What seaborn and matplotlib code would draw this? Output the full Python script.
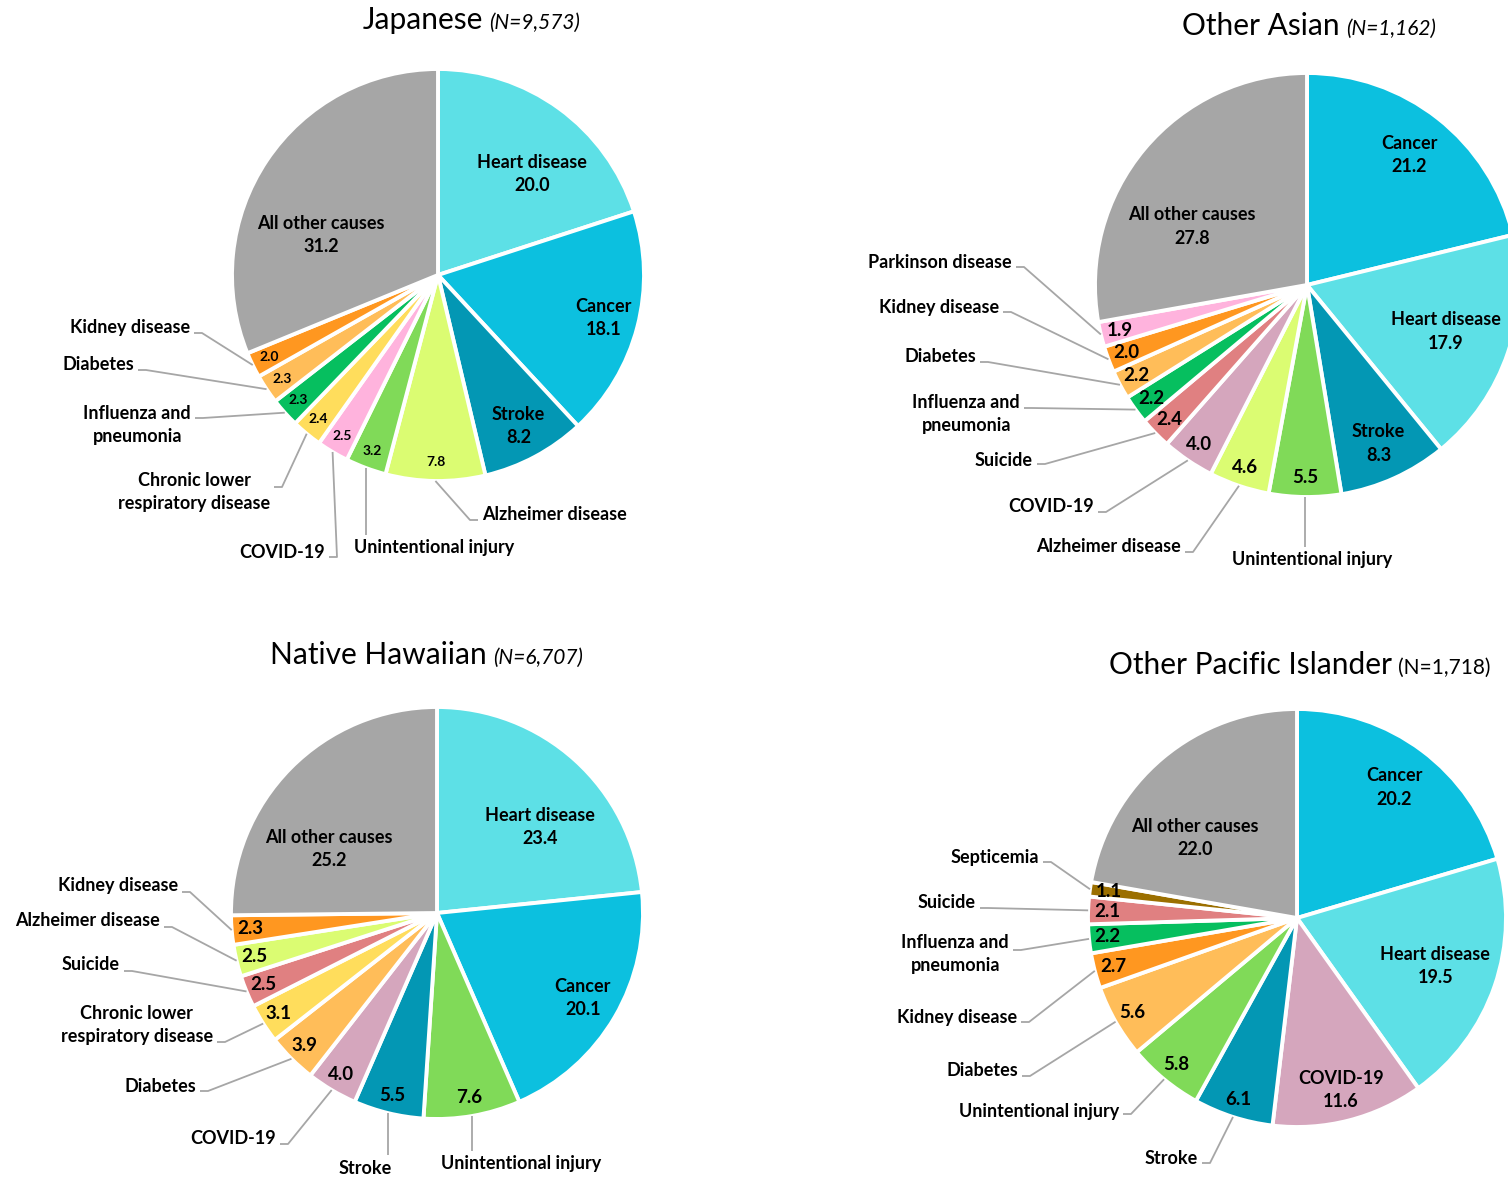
import matplotlib
matplotlib.use("Agg")
import matplotlib.pyplot as plt
import numpy as np
import seaborn as sns

W, H = 1508, 1178

# ---- data (percent of deaths) ----
JP_CAUSES = ["Heart disease", "Cancer", "Stroke", "Alzheimer disease", "Unintentional injury",
             "COVID-19", "Chronic lower respiratory disease", "Influenza and pneumonia",
             "Diabetes", "Kidney disease", "All other causes"]
JP_PCT = [20.0, 18.1, 8.2, 7.8, 3.2, 2.5, 2.4, 2.3, 2.3, 2.0, 31.2]

OA_CAUSES = ["Cancer", "Heart disease", "Stroke", "Unintentional injury", "Alzheimer disease",
             "COVID-19", "Suicide", "Influenza and pneumonia", "Diabetes", "Kidney disease",
             "Parkinson disease", "All other causes"]
OA_PCT = [21.2, 17.9, 8.3, 5.5, 4.6, 4.0, 2.4, 2.2, 2.2, 2.0, 1.9, 27.8]

NH_CAUSES = ["Heart disease", "Cancer", "Unintentional injury", "Stroke", "COVID-19", "Diabetes",
             "Chronic lower respiratory disease", "Suicide", "Alzheimer disease",
             "Kidney disease", "All other causes"]
NH_PCT = [23.4, 20.1, 7.6, 5.5, 4.0, 3.9, 3.1, 2.5, 2.5, 2.3, 25.2]

OPI_CAUSES = ["Cancer", "Heart disease", "COVID-19", "Stroke", "Unintentional injury", "Diabetes",
              "Kidney disease", "Influenza and pneumonia", "Suicide", "Septicemia",
              "All other causes"]
OPI_PCT = [20.2, 19.5, 11.6, 6.1, 5.8, 5.6, 2.7, 2.2, 2.1, 1.1, 22.0]

TITLES = ["Japanese", "Other Asian", "Native Hawaiian", "Other Pacific Islander"]
N_LABELS = ["(N=9,573)", "(N=1,162)", "(N=6,707)", "(N=1,718)"]

# ---- style ----
CAUSE_COLORS = {
    "Heart disease": "#5DE0E6",
    "Cancer": "#0CC0DF",
    "Stroke": "#0397B4",
    "Alzheimer disease": "#DBFC72",
    "Unintentional injury": "#80DA58",
    "COVID-19": "#D5A6BD",
    "Chronic lower respiratory disease": "#FFDD5C",
    "Influenza and pneumonia": "#06BF5F",
    "Diabetes": "#FFBD59",
    "Kidney disease": "#FF9720",
    "Suicide": "#E08081",
    "Parkinson disease": "#FFB3DD",
    "Septicemia": "#9B6F00",
    "All other causes": "#A6A6A6",
}
DISPLAY = {
    "Influenza and pneumonia": "Influenza and\npneumonia",
    "Chronic lower respiratory disease": "Chronic lower\nrespiratory disease",
}
LINE_COLOR = "#A6A6A6"
LABEL_SIZE = 13

sns.set_theme(style="white")
plt.rcParams["font.family"] = ["Lato", "DejaVu Sans"]
plt.rcParams["text.color"] = "black"


def draw_pie(ax, causes, pct, center, radius, named, outside, overrides=None, value_size=13.5):
    """Pie from 12 o'clock clockwise, labels inside, leader lines to names outside."""
    cx, cy = center
    cy = H - cy
    pal = dict(CAUSE_COLORS, **(overrides or {}))
    wedges, _ = ax.pie(pct, colors=[pal[c] for c in causes], startangle=90, counterclock=False,
                       center=(cx, cy), radius=radius,
                       wedgeprops=dict(edgecolor="white", linewidth=2.8))
    for w, cause, val in zip(wedges, causes, pct):
        mid = np.deg2rad((w.theta1 + w.theta2) / 2)
        if cause in named:
            frac, dang = named[cause]
            a = mid + np.deg2rad(dang)
            ax.text(cx + frac * radius * np.cos(a), cy + frac * radius * np.sin(a),
                    f"{cause}\n{val:.1f}", ha="center", va="center", fontsize=LABEL_SIZE,
                    fontweight="bold", linespacing=1.45)
        else:
            ax.text(cx + 0.91 * radius * np.cos(mid), cy + 0.91 * radius * np.sin(mid),
                    f"{val:.1f}", ha="center", va="center", fontsize=value_size,
                    fontweight="bold")
        if cause not in outside:
            continue
        tx, ty, ha, kind, dy = outside[cause]
        ex, ey = cx + radius * np.cos(mid), cy + radius * np.sin(mid)
        ax.text(tx, H - ty, DISPLAY.get(cause, cause), ha=ha, va="center", fontsize=LABEL_SIZE,
                fontweight="bold", multialignment="center", linespacing=1.45)
        if kind == "below":
            xs, ys = [ex, ex], [ey, H - (ty - 13)]
        else:
            sgn = 1 if ha == "right" else -1
            ly = H - (ty + dy)
            xs = [tx + sgn * 4, tx + sgn * 12, ex]
            ys = [ly, ly, ey]
        ax.plot(xs, ys, color=LINE_COLOR, lw=1.3, solid_capstyle="butt")


fig = plt.figure(figsize=(W / 100, H / 100), dpi=100)
ax = fig.add_axes([0, 0, 1, 1])

draw_pie(ax, JP_CAUSES, JP_PCT, (438, 275), 206,
         named={"Heart disease": (0.67, -7), "Cancer": (0.83, 0), "Stroke": (0.83, 0),
                "All other causes": (0.6, 15)},
         outside={"Kidney disease": (190, 328, "right", "side", 5),
                  "Diabetes": (134, 365, "right", "side", 5),
                  "Influenza and pneumonia": (191, 425, "right", "side", -7),
                  "Chronic lower respiratory disease": (270, 492, "right", "side", -5),
                  "COVID-19": (325, 553, "right", "side", 4),
                  "Unintentional injury": (354, 548, "left", "below", 0),
                  "Alzheimer disease": (482, 514, "left", "side", 6)},
         overrides={"COVID-19": "#FFB3DD"}, value_size=10)

draw_pie(ax, OA_CAUSES, OA_PCT, (1307, 285), 212,
         named={"Cancer": (0.78, 0), "Heart disease": (0.69, 0), "Stroke": (0.82, 0),
                "All other causes": (0.61, 13)},
         outside={"Parkinson disease": (1012, 263, "right", "side", 4),
                  "Kidney disease": (999, 307, "right", "side", 5),
                  "Diabetes": (976, 356, "right", "side", 6),
                  "Influenza and pneumonia": (1020, 414, "right", "side", -6),
                  "Suicide": (1033, 461, "right", "side", 3),
                  "COVID-19": (1094, 507, "right", "side", 5),
                  "Alzheimer disease": (1181, 547, "right", "side", 5),
                  "Unintentional injury": (1312, 560, "center", "below", 0)})

draw_pie(ax, NH_CAUSES, NH_PCT, (437, 913), 206,
         named={"Heart disease": (0.65, -8), "Cancer": (0.82, 0), "All other causes": (0.61, 14)},
         outside={"Kidney disease": (178, 886, "right", "side", 6),
                  "Alzheimer disease": (160, 921, "right", "side", 6),
                  "Suicide": (120, 965, "right", "side", 6),
                  "Chronic lower respiratory disease": (213, 1025, "right", "side", 17),
                  "Diabetes": (196, 1086, "right", "side", 5),
                  "COVID-19": (276, 1139, "right", "side", 5),
                  "Stroke": (365, 1168, "center", "below", 0),
                  "Unintentional injury": (441, 1164, "left", "below", 0)})

draw_pie(ax, OPI_CAUSES, OPI_PCT, (1297, 918), 209,
         named={"Cancer": (0.78, 0), "Heart disease": (0.70, 0), "COVID-19": (0.85, 0),
                "All other causes": (0.62, 12)},
         outside={"Septicemia": (1039, 857, "right", "side", 5),
                  "Suicide": (976, 902, "right", "side", 6),
                  "Influenza and pneumonia": (1009, 954, "right", "side", -4),
                  "Kidney disease": (1017, 1017, "right", "side", 5),
                  "Diabetes": (1018, 1070, "right", "side", 6),
                  "Unintentional injury": (1119, 1111, "right", "side", 3),
                  "Stroke": (1198, 1159, "right", "side", 4)})

# titles: name + sample size, split point and baseline in pixels
title_pos = [(483, 29), (1340, 35), (487, 664), (1392, 674)]
for (sx, by), title, nlab, italic in zip(title_pos, TITLES, N_LABELS, [True, True, True, False]):
    ax.text(sx, H - by, title, ha="right", va="baseline", fontsize=21.5)
    ax.text(sx + 6, H - by, nlab, ha="left", va="baseline", fontsize=15,
            style="italic" if italic else "normal")

ax.set_xlim(0, W)
ax.set_ylim(0, H)
ax.set_aspect("equal")
ax.axis("off")
fig.savefig("out.png", dpi=100)
